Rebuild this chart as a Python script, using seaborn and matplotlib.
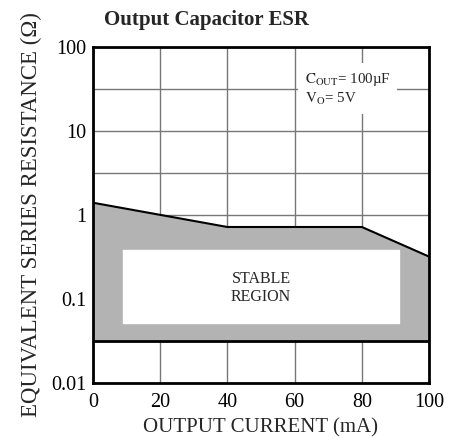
import numpy as np
import seaborn as sns
import matplotlib
import matplotlib.pyplot as plt
matplotlib.use('Agg')

# Boundary of the stable ESR region
current_mA = [0, 40, 80, 100]
esr_upper = [1.4, 0.72, 0.72, 0.32]
esr_lower = [0.032, 0.032, 0.032, 0.032]

# White inner box that holds the "STABLE REGION" label
box_x = [9, 91]
box_y = [0.052, 0.38]

x_ticks = [0, 20, 40, 60, 80, 100]
y_ticks = [0.01, 0.1, 1, 10, 100]
y_tick_labels = ["0.01", "0.1", "1", "10", "100"]
y_half = [0.0316, 0.316, 3.16, 31.6]


def main():
    sns.set_theme(style="white")
    plt.rcParams['font.family'] = ['Liberation Serif', 'DejaVu Serif']
    plt.rcParams['mathtext.fontset'] = 'stix'

    fig = plt.figure(figsize=(4.61, 4.41), dpi=100)
    ax = fig.add_axes([0.2017, 0.1315, 0.7289, 0.7619])

    ax.set_yscale('log')
    ax.set_xlim(0, 100)
    ax.set_ylim(0.01, 100)

    # grid: every 20 mA and every half decade
    ax.set_xticks(x_ticks)
    ax.set_yticks(y_ticks)
    ax.set_yticklabels(y_tick_labels)
    ax.set_yticks(y_half, minor=True)
    ax.yaxis.set_minor_formatter(matplotlib.ticker.NullFormatter())
    ax.grid(True, which='both', color='#777777', linewidth=1.0)
    ax.set_axisbelow(True)
    ax.tick_params(which='both', length=0, labelsize=14.5, colors='black', pad=5)
    ax.tick_params(axis='x', pad=7)

    # shaded region and its white centre
    ax.fill_between(current_mA, esr_lower, esr_upper, color='#b3b3b3', zorder=2)
    ax.fill_between(box_x, [box_y[0]] * 2, [box_y[1]] * 2, color='white', zorder=3)

    sns.lineplot(x=current_mA, y=esr_upper, ax=ax, color='black', linewidth=1.5, zorder=4)
    sns.lineplot(x=current_mA, y=esr_lower, ax=ax, color='black', linewidth=2.0, zorder=4)

    ax.text(50, 0.135, "STABLE\nREGION", ha='center', va='center', fontsize=11.5,
            linespacing=1.1, zorder=5)

    ax.text(63, 31.6, "$\\mathrm{C_{OUT}}$= 100\u00b5F\n$\\mathrm{V_O}$= 5V", ha='left', va='center',
            fontsize=10.8, linespacing=1.2, zorder=5,
            bbox=dict(facecolor='white', edgecolor='none', pad=5))

    for s in ax.spines.values():
        s.set_color('black')
        s.set_linewidth(2.0)
        s.set_zorder(6)

    ax.set_xlabel("OUTPUT CURRENT (mA)", fontsize=15, labelpad=5)
    ax.set_ylabel("EQUIVALENT SERIES RESISTANCE (\u03a9)", fontsize=16.5, labelpad=6)
    fig.text(0.449, 0.955, "Output Capacitor ESR", ha='center', va='center',
             fontsize=15, fontweight='bold')

    fig.savefig("out.png", dpi=100)


if __name__ == "__main__":
    main()
